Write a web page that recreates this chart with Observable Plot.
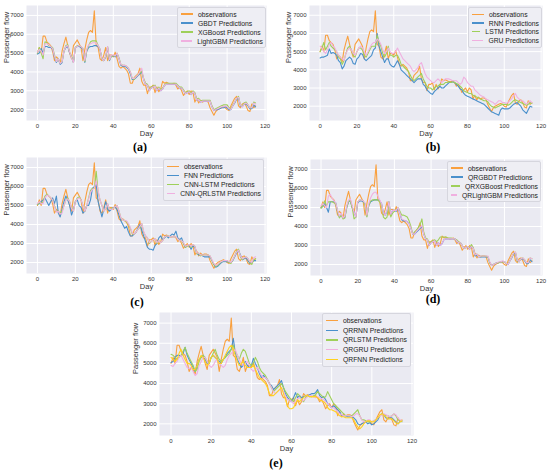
<!DOCTYPE html>
<html><head><meta charset="utf-8">
<script src="https://cdn.jsdelivr.net/npm/d3@7"></script>
<script src="https://cdn.jsdelivr.net/npm/@observablehq/plot@0.6"></script>
<style>
body{margin:0;background:#fff;font-family:"Liberation Sans",Arial,sans-serif;}
#fig{position:relative;width:550px;height:474px;overflow:hidden;}
#fig svg{position:absolute;}
.cap{position:absolute;font-family:"Liberation Serif","DejaVu Serif",serif;font-weight:bold;font-size:12px;transform:translate(-50%,-50%);color:#000;}
.legend{position:absolute;background:#eeeef4;border:1px solid #d6d6de;border-radius:2px;box-sizing:border-box;font-size:6.8px;color:#222;}
.legend .row{display:flex;align-items:center;white-space:nowrap;}
.legend .sw{display:inline-block;width:12px;height:1.2px;margin-right:5px;}
</style>
</head><body>
<div id="fig"></div>
<script>
const days = d3.range(116);
const xTicks = [0, 20, 40, 60, 80, 100, 120];
const yTicks = [2000, 3000, 4000, 5000, 6000, 7000];
const xLabel = "Day";
const yLabel = "Passenger flow";

const observations = [
5000,5300,5000,5900,5900,5600,5500,5400,5100,4600,
4800,4700,4450,5100,5500,5850,5400,5000,4700,5400,
5550,5700,5500,5300,4600,5200,5700,6100,6200,6100,
7250,5400,5300,4700,4600,4900,5300,4600,4900,4900,
4800,5050,4700,4300,4200,4300,4200,4100,3900,3400,
3400,3700,3800,3900,4200,3500,3300,3300,2850,3200,
3200,3300,2900,3200,2950,3100,3500,3400,3450,3400,
3350,3350,3400,3300,3100,3200,3000,2750,2900,3000,
2800,3000,2900,2400,2600,2350,2500,2400,2450,2450,
2400,2100,1900,1700,1900,2000,2050,2100,2150,2100,
2000,1950,2200,2400,2600,2700,2200,2100,2300,2350,
2200,1950,1900,2300,2100,2200];

// (a)
const gbdt = [
4950,5000,5250,5000,5350,5350,5300,5300,5250,4800,
4500,4700,4400,4500,5100,5300,5350,5000,4800,4500,
5300,5350,5350,5300,5200,4500,5100,5300,5350,5350,
5400,5400,5350,5200,4700,4600,4800,5300,4600,4850,
4850,4800,4950,4700,4350,4300,4300,4250,4150,3900,
3600,3600,3700,3800,3900,4000,3600,3350,3300,3000,
3150,3200,3250,3000,3150,3000,3100,3300,3350,3350,
3350,3350,3350,3350,3250,3150,3150,3000,2850,2900,
2950,2800,2950,2850,2500,2550,2400,2450,2450,2450,
2450,2450,2150,1950,2000,2000,2050,2100,2100,2150,
2100,2000,2000,2200,2350,2550,2600,2200,2150,2300,
2300,2200,2050,2050,2250,2150];
const xgboost = [
5000,5300,5000,4700,5600,5550,5400,5350,5300,4900,
4550,4700,4450,4550,5100,5400,5450,5050,4800,4500,
5300,5400,5400,5350,5250,4550,5150,5400,5600,5650,
5650,5650,5400,5200,4700,4600,4850,5350,4650,4850,
4850,4850,5000,4750,4400,4350,4350,4300,4200,4000,
3650,3600,3750,3850,3950,4050,3650,3400,3350,3050,
3200,3250,3300,3050,3200,3050,3150,3300,3400,3400,
3400,3400,3400,3400,3300,3200,3200,3050,2900,2950,
3000,2850,3000,2900,2550,2600,2450,2500,2500,2500,
2500,2500,2200,2000,2050,2100,2150,2200,2250,2250,
2250,2100,2050,2250,2400,2600,2700,2250,2200,2350,
2400,2250,2100,2100,2400,2350];
const lightgbm = [
5050,5200,5100,4900,5500,5500,5450,5350,5250,4850,
4550,4700,4450,4550,5100,5350,5400,5050,4750,4500,
5300,5350,5400,5350,5250,4600,5200,5450,5500,5550,
5550,5550,5400,5200,4700,4600,4850,5350,4650,4900,
4900,4850,5000,4700,4400,4350,4350,4300,4200,4000,
3650,3650,3750,3850,4000,4200,3600,3350,3300,3000,
3150,3200,3250,3000,3150,3000,3100,3300,3350,3350,
3350,3350,3350,3350,3250,3150,3150,3000,2850,2900,
2950,2800,2950,2850,2500,2550,2400,2450,2450,2450,
2450,2450,2150,1950,2000,2050,2100,2150,2150,2200,
2150,2050,2000,2200,2400,2600,2650,2250,2150,2300,
2350,2250,2100,2100,2350,2300];

// (b)
const rnn = [
4650,4700,4700,4750,4800,5150,4900,4950,4900,4800,
4500,4400,4050,4200,4500,4600,4700,4600,4350,4300,
4600,4700,4900,4850,4600,4500,4600,4700,4800,5100,
5200,6000,5300,5000,4700,4400,4600,4600,4300,4200,
4150,4300,4500,4300,4000,3900,3800,3700,3600,3500,
3400,3300,3400,3500,3500,3500,3200,3100,2900,2800,
2700,2650,2800,2900,3000,3100,3000,3000,3100,3200,
3300,3300,3350,3300,3200,3100,2950,2900,2700,2600,
2550,2500,2450,2400,2350,2300,2250,2200,2150,2100,
2000,1900,1800,1700,1650,1600,1550,1500,1800,1900,
1850,1850,1850,1900,2000,2100,2150,2200,2100,2000,
1800,1700,1600,1800,2000,1950];
const lstm = [
5000,5200,5500,5100,5300,5500,5300,5200,5100,5000,
4700,4600,4300,4500,4900,5200,5300,5100,4800,4700,
5000,5200,5200,5100,4800,4700,4900,5100,5300,5300,
5300,5900,5500,5300,4900,4700,4900,5300,4800,4800,
4700,4800,4800,4600,4300,4200,4100,4000,3900,3700,
3500,3400,3500,3600,3700,3800,3500,3300,3100,3000,
3000,2900,3000,3100,3100,3200,3200,3200,3300,3300,
3350,3300,3350,3300,3250,3200,3100,3000,2850,2800,
2750,2700,2700,2600,2550,2500,2450,2400,2350,2300,
2300,2250,2100,2000,1950,1900,1950,2000,2050,2100,
2100,2100,2050,2100,2200,2300,2350,2300,2250,2200,
2150,2100,2050,2100,2200,2150];
const gru = [
5300,5200,5000,4900,5100,5400,5500,5300,5200,5000,
4800,4700,4600,4500,4900,5100,5200,5100,4900,4800,
5000,5200,5300,5200,5000,4800,5000,5200,5400,5500,
5500,5700,5600,5400,5100,4900,5000,5200,5000,4900,
4900,5000,5200,5000,4800,4600,4500,4400,4300,4200,
4000,3900,4000,4100,4300,4400,4100,3800,3600,3500,
3400,3300,3300,3400,3500,3400,3300,3400,3500,3500,
3500,3450,3400,3400,3400,3300,3200,3300,3600,3500,
3300,3200,3100,3100,2900,2800,2700,2600,2550,2500,
2400,2350,2300,2250,2200,2100,2200,2300,2300,2200,
2200,2150,2200,2300,2400,2600,2700,2500,2400,2300,
2300,2200,2100,2200,2300,2200];

// (c)
const fnn = [
5050,5100,5200,5300,5400,5200,5000,5200,5400,5100,
5500,4600,4400,4800,5200,5500,5300,5000,4500,4800,
5200,5300,5000,4900,4600,4700,5000,5000,5300,5900,
6000,6100,5200,4800,4400,4800,5200,4800,4700,4800,
4900,4900,4800,4500,4200,4000,3800,3900,3600,3400,
3400,3500,3600,3800,4000,3700,3400,3100,2800,2700,
2700,2650,2900,3000,3300,3400,3200,3300,3400,3300,
3400,3500,3450,3650,3300,3200,3300,3000,2800,2900,
2900,2700,2900,2800,2500,2400,2400,2350,2300,2300,
2300,2300,2100,1900,1750,1800,1900,2000,2050,2050,
2050,2000,2000,2100,2300,2500,2650,2400,2150,2200,
2250,2100,1950,2000,2100,2100];
const cnnLstm = [
5050,5150,5100,5200,5500,5600,5500,5400,5300,5000,
4700,4700,4600,4700,5000,5300,5400,5200,4900,4700,
5200,5400,5450,5300,5000,4700,5000,5400,5800,5900,
5900,6800,5700,5300,5000,4700,4850,5100,4800,4850,
4850,4950,5000,4700,4350,4250,4200,4150,4000,3800,
3500,3500,3600,3750,3850,4050,3600,3400,3300,3000,
3100,3200,3250,3000,3150,3050,3150,3350,3400,3400,
3350,3350,3350,3350,3250,3150,3150,3000,2800,2850,
2950,2800,2950,2850,2450,2500,2350,2400,2400,2400,
2400,2350,2100,1900,1800,1850,1950,2050,2100,2100,
2100,2000,1950,2150,2350,2600,2700,2300,2150,2250,
2300,2200,2000,1900,2150,2200];
const cnnQrlstm = [
5100,5200,5100,5100,5400,5550,5500,5400,5300,4950,
4650,4700,4550,4600,5000,5300,5350,5200,4850,4700,
5200,5350,5400,5300,5000,4700,5000,5350,5700,5850,
5900,6300,5800,5300,5000,4700,4850,5100,4800,4800,
4850,4950,5000,4700,4350,4250,4200,4200,4050,3850,
3550,3500,3600,3750,3900,4050,3650,3400,3300,3050,
3100,3200,3250,3050,3150,3050,3150,3350,3400,3400,
3350,3350,3350,3350,3250,3150,3150,3050,2850,2900,
2950,2850,2950,2850,2500,2500,2400,2400,2400,2400,
2400,2350,2150,1950,1850,1900,2000,2050,2100,2100,
2100,2050,2000,2150,2350,2550,2650,2350,2200,2250,
2300,2200,2050,2000,2250,2300];

// (d)
const qrgbdt = [
5000,5050,5200,5000,4750,5300,5300,5300,5250,4800,
4500,4600,4450,4500,5000,5300,5350,5000,4750,4500,
5250,5350,5350,5300,5200,4550,5100,5300,5350,5400,
5400,5400,5350,5200,4700,4600,4800,5300,4600,4850,
4850,4800,4950,4700,4350,4300,4300,4250,4150,3900,
3600,3600,3700,3800,3900,4000,3600,3350,3300,3000,
3150,3200,3250,3000,3150,3000,3100,3300,3350,3350,
3350,3350,3350,3350,3250,3150,3150,3000,2850,2900,
2950,2800,2950,2850,2450,2500,2400,2400,2400,2400,
2400,2400,2100,1950,2000,2050,2100,2100,2150,2150,
2150,2050,2000,2200,2350,2550,2600,2200,2150,2300,
2300,2200,2050,2050,2250,2150];
const qrxgboost = [
4950,5100,5350,5100,5300,5300,5300,5250,5200,4800,
4450,4600,4400,4450,5000,5350,5350,5000,4400,4500,
5300,5400,5400,5350,5100,4500,5100,5350,5400,5400,
5400,5400,5300,5100,4500,4400,4500,5300,4500,4700,
4800,4900,5000,4800,4600,4600,4550,4500,4300,4000,
3600,3700,3800,3950,4100,4400,3700,3400,3350,3100,
3200,3250,3300,3200,3300,3450,3450,3450,3450,3400,
3400,3400,3350,3350,3300,3200,3150,3000,2850,2900,
2950,2850,3050,2900,2500,2550,2400,2450,2450,2450,
2450,2400,2100,1950,2000,2050,2100,2100,2150,2150,
2150,2050,2050,2200,2400,2600,2650,2200,2150,2300,
2350,2250,2100,2100,2350,2300];
const qrlightgbm = [
5100,5200,5100,5000,5600,5700,5500,5350,5250,4850,
4550,4700,4450,4550,5100,5400,5450,5100,4750,4500,
5300,5400,5400,5350,5250,4600,5200,5500,5700,5800,
5800,5600,5400,5200,4700,4600,4850,5300,4650,4850,
4850,4850,5000,4700,4400,4350,4300,4250,4150,3900,
3600,3600,3750,3850,3950,4050,3600,3350,3300,3000,
3150,3200,3250,3000,3150,3000,3100,3300,3350,3350,
3350,3350,3350,3350,3250,3150,3150,3000,2850,2900,
2950,2800,2950,2850,2500,2550,2400,2450,2450,2450,
2450,2450,2150,1950,2000,2050,2100,2150,2150,2200,
2150,2050,2000,2200,2400,2600,2650,2250,2150,2300,
2350,2250,2100,2100,2350,2300];

// (e)
const qrrnn = [
5050,5100,5300,5400,5400,5350,5500,5800,5400,5200,
5000,4800,4600,4900,5200,5300,5400,5200,5000,5000,
5300,5400,5300,5200,5100,5000,5200,5300,5500,5600,
5700,6250,5500,5200,5000,4800,4900,5100,4900,4800,
4900,5250,5000,4800,4500,4300,4400,4300,4200,4000,
3900,3700,3800,3900,4000,4150,3800,3500,3300,3200,
3100,3300,3550,3300,3400,3300,3350,3400,3400,3450,
3500,3500,3550,3700,3400,3300,3350,3200,3000,2900,
2800,2900,2800,2700,2600,2400,2400,2400,2350,2350,
2350,2300,2200,2000,1950,2000,2050,2100,2000,2050,
1950,2000,2100,2200,2400,2500,2450,2300,2250,2300,
2300,2200,2100,2000,2100,2150];
const qrlstm = [
5450,5400,5300,5200,5300,5400,5600,5800,5500,5300,
5100,4900,4600,4700,5100,5300,5400,5300,5100,5000,
5300,5500,5700,5400,5200,5100,5200,5300,5400,5500,
5700,5900,5600,5400,5200,5500,5700,5600,5300,5000,
4900,5000,5300,5100,4800,4600,4500,4400,4200,4000,
3800,3600,3700,3800,3900,4000,3800,3600,3450,3300,
3200,3100,3300,3500,3400,3200,3100,3300,3400,3350,
3350,3400,3450,3600,3500,3400,3300,3350,3600,3400,
3200,3000,2900,2800,2700,2600,2500,2400,2400,2400,
2400,2500,2600,2700,2400,2200,2200,2150,2100,2100,
2100,2150,2200,2300,2400,2500,2450,2400,2400,2350,
2400,2500,2400,2200,2150,2100];
const qrgru = [
4900,4850,5000,5100,5300,5400,5200,5000,4800,4750,
4800,4600,4400,4500,4900,5100,5300,5300,5100,4900,
4800,4900,5100,5200,5000,4900,4800,4900,5200,5400,
5500,5600,5700,5400,5200,5000,4900,5000,5100,4900,
4700,4600,4700,4800,4600,4400,4300,4300,4200,4000,
3800,3600,3500,3600,3700,3800,3600,3400,3200,3200,
3100,3000,3150,3250,3300,3200,3150,3250,3350,3400,
3400,3350,3300,3350,3300,3250,3200,3100,3000,2900,
2800,2800,2700,2600,2500,2450,2400,2400,2400,2400,
2350,2400,2500,2500,2400,2200,2100,2100,2200,2200,
2100,2150,2200,2300,2400,2450,2500,2450,2400,2350,
2400,2500,2450,2300,2200,2150];
const qrfnn = [
5300,5200,5100,5200,5500,5700,5400,5200,5000,5000,
4900,4700,4700,4900,5200,5400,5300,5100,4900,5000,
5300,5400,5300,5200,5000,5000,5200,5400,5600,5800,
5900,5700,5400,5100,4900,5000,5100,4900,4800,4800,
4800,4900,4700,4500,4300,4200,4100,4000,3800,3500,
3400,3400,3500,3600,3700,3800,3500,3200,2900,2750,
2750,2800,3000,3200,3100,3200,3300,3400,3400,3350,
3350,3350,3350,3300,3200,3150,3100,3000,2800,2700,
2700,2650,2600,2500,2400,2350,2350,2300,2300,2300,
2300,2200,2000,1850,1750,1850,2000,2100,2150,2150,
2100,2100,2200,2300,2450,2500,2450,2350,2250,2250,
2250,2150,2050,2000,2100,2150];

const cOrange = "#f9a03f", cBlue = "#4a90cc", cGreen = "#9fd05a", cPink = "#f0b0e0", cYellow = "#ffd21f";

const panels = [
  {cap:"(a)", capX:140, capY:147, left:0, top:0, width:275, height:140, mt:5, mr:9, mb:20, ml:26, yl:20,
   series:[["observations",observations,cOrange],["GBDT Predictions",gbdt,cBlue],["XGBoost Predictions",xgboost,cGreen],["LightGBM Predictions",lightgbm,cPink]],
   lg:{left:177, top:7, width:89, rowH:9, pad:1.5}},
  {cap:"(b)", capX:433, capY:147, left:275, top:0, width:275, height:140, mt:5, mr:8, mb:20, ml:34, yl:21,
   series:[["observations",observations,cOrange],["RNN Predictions",rnn,cBlue],["LSTM Predictions",lstm,cGreen],["GRU Predictions",gru,cPink]],
   lg:{left:468, top:7, width:74, rowH:8.7, pad:2}},
  {cap:"(c)", capX:137, capY:302, left:0, top:150, width:275, height:145, mt:7, mr:9, mb:22, ml:26, yl:20,
   series:[["observations",observations,cOrange],["FNN Predictions",fnn,cBlue],["CNN-LSTM Predictions",cnnLstm,cGreen],["CNN-QRLSTM Predictions",cnnQrlstm,cPink]],
   lg:{left:163, top:159, width:101, rowH:9, pad:2}},
  {cap:"(d)", capX:433, capY:299, left:275, top:150, width:275, height:145, mt:9, mr:8, mb:20, ml:35, yl:20,
   series:[["observations",observations,cOrange],["QRGBDT Predictions",qrgbdt,cBlue],["QRXGBoost Predictions",qrxgboost,cGreen],["QRLightGBM Predictions",qrlightgbm,cPink]],
   lg:{left:447, top:161, width:94, rowH:9, pad:1.5}},
  {cap:"(e)", capX:276, capY:463, left:130, top:305, width:290, height:150, mt:7, mr:7, mb:20, ml:29, yl:24,
   series:[["observations",observations,cOrange],["QRRNN Predictions",qrrnn,cBlue],["QRLSTM Predictions",qrlstm,cGreen],["QRGRU Predictions",qrgru,cPink],["QRFNN Predictions",qrfnn,cYellow]],
   lg:{left:322, top:313, width:89, rowH:9.6, pad:2}}
];

const fig = document.getElementById("fig");

for (const p of panels) {
  const all = p.series.flatMap(s => s[1]);
  const [lo, hi] = d3.extent(all);
  const pad = (hi - lo) * 0.05;
  const svg = Plot.plot({
    width: p.width, height: p.height,
    marginTop: p.mt, marginRight: p.mr, marginBottom: p.mb, marginLeft: p.ml,
    style: {fontFamily: "'Liberation Sans', Arial, sans-serif", fontSize: "6px", color: "#333", background: "transparent", overflow: "visible"},
    x: {domain: [-5.75, 120.75]},
    y: {domain: [lo - pad, hi + pad]},
    marks: [
      Plot.frame({fill: "#eaeaf2", stroke: null}),
      Plot.gridX(xTicks, {stroke: "#ffffff", strokeOpacity: 1, strokeWidth: 1}),
      Plot.gridY(yTicks, {stroke: "#ffffff", strokeOpacity: 1, strokeWidth: 1}),
      Plot.axisX(xTicks, {tickSize: 0, tickPadding: 3, tickFormat: d => String(d), label: null}),
      Plot.axisY(yTicks, {tickSize: 0, tickPadding: 3, tickFormat: d => String(d), label: null}),
      Plot.text([xLabel], {frameAnchor: "bottom", dy: 15.5, fontSize: 7.5, fill: "#333"}),
      Plot.text([yLabel], {frameAnchor: "left", dx: -p.yl, rotate: -90, fontSize: 7.5, fill: "#333"}),
      ...p.series.map(([name, vals, color]) =>
        Plot.lineY(vals, {x: days, stroke: color, strokeWidth: 1.1}))
    ]
  });
  svg.style.left = p.left + "px";
  svg.style.top = p.top + "px";
  fig.appendChild(svg);

  const cap = document.createElement("div");
  cap.className = "cap";
  cap.style.left = p.capX + "px";
  cap.style.top = p.capY + "px";
  cap.textContent = p.cap;
  fig.appendChild(cap);

  const lg = document.createElement("div");
  lg.className = "legend";
  lg.style.left = p.lg.left + "px";
  lg.style.top = p.lg.top + "px";
  lg.style.width = p.lg.width + "px";
  lg.style.padding = p.lg.pad + "px 2px " + p.lg.pad + "px 3px";
  for (const [name, , color] of p.series) {
    const row = document.createElement("div");
    row.className = "row";
    row.style.height = p.lg.rowH + "px";
    const sw = document.createElement("span");
    sw.className = "sw";
    sw.style.background = color;
    row.appendChild(sw);
    const t = document.createElement("span");
    t.textContent = name;
    row.appendChild(t);
    lg.appendChild(row);
  }
  fig.appendChild(lg);
}
</script>
</body></html>
